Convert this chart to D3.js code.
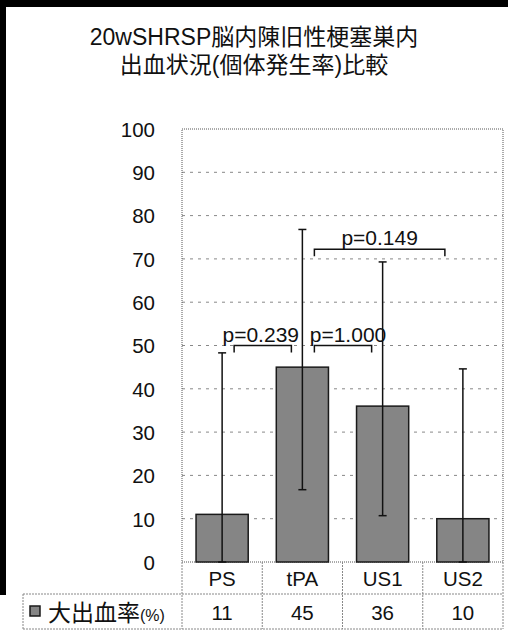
<!DOCTYPE html>
<html><head><meta charset="utf-8">
<script src="https://cdn.jsdelivr.net/npm/d3@7"></script>
<style>body{margin:0;background:#fff}svg{display:block}</style>
</head><body>
<script>
const titleLines = ["20wSHRSP脳内陳旧性梗塞巣内", "出血状況(個体発生率)比較"];
const categories = ["PS", "tPA", "US1", "US2"];
const values = [11, 45, 36, 10];
const errHigh = [48.3, 76.8, 69.3, 44.6];
const errLow = [0, 16.7, 10.7, 0];
const yTicks = [0, 10, 20, 30, 40, 50, 60, 70, 80, 90, 100];
const seriesName = "大出血率";
const seriesUnit = "(%)";
const comparisons = [
  {from: "PS", to: "tPA", label: "p=0.239", y: 50},
  {from: "tPA", to: "US1", label: "p=1.000", y: 50},
  {from: "tPA", to: "US2", label: "p=0.149", y: 72.2}
];

(function () {
const W = 508, H = 643;
const FONT = "'Liberation Sans', Arial, 'Noto Sans CJK JP', sans-serif";
const svg = d3.select("body").append("svg").attr("width", W).attr("height", H)
  .style("font-family", FONT);

// outer black frame
svg.append("rect").attr("x", 0).attr("y", 0).attr("width", W).attr("height", 7).attr("fill", "#000");
svg.append("rect").attr("x", 0).attr("y", 0).attr("width", 6).attr("height", 595).attr("fill", "#000");

const pL = 182, pR = 503, pT = 129, pB = 562;
const x = d3.scaleBand().domain(categories).range([pL, pR]).padding(0);
const y = d3.scaleLinear().domain([0, 100]).range([pB, pT]);
const bw = x.bandwidth() * 0.65;
const cx = c => x(c) + x.bandwidth() / 2;

// title
svg.append("g").selectAll("text").data(titleLines).join("text")
  .attr("x", 254).attr("y", (d, i) => 45 + i * 28)
  .attr("text-anchor", "middle").attr("font-size", 23).attr("fill", "#111")
  .style("font-family", "'Liberation Sans', 'Noto Sans CJK JP', sans-serif")
  .text(d => d);

// gridlines
svg.append("g").selectAll("line").data(yTicks.filter(t => t > 0 && t < 100)).join("line")
  .attr("x1", pL).attr("x2", pR).attr("y1", d => y(d)).attr("y2", d => y(d))
  .attr("stroke", "#888").attr("stroke-width", 1).attr("stroke-dasharray", "3,5");

// plot border (dotted)
svg.append("rect").attr("x", pL).attr("y", pT).attr("width", pR - pL).attr("height", pB - pT)
  .attr("fill", "none").attr("stroke", "#555").attr("stroke-width", 1).attr("stroke-dasharray", "1,1");

// y axis labels
const yAxis = d3.axisLeft(y).tickValues(yTicks).tickSize(0).tickPadding(0);
const ya = svg.append("g").attr("transform", `translate(155,0)`).call(yAxis);
ya.select(".domain").remove();
ya.selectAll("text").attr("font-size", 20.5).attr("fill", "#111").style("font-family", FONT).attr("dy", "0.36em");

// bars
svg.append("g").selectAll("rect").data(categories).join("rect")
  .attr("x", c => cx(c) - bw / 2).attr("width", bw)
  .attr("y", (c, i) => y(values[i])).attr("height", (c, i) => y(0) - y(values[i]))
  .attr("fill", "#858585").attr("stroke", "#1a1a1a").attr("stroke-width", 1.5);

// error bars
const eb = svg.append("g").attr("stroke", "#111").attr("stroke-width", 1.5);
categories.forEach((c, i) => {
  const X = cx(c);
  eb.append("line").attr("x1", X).attr("x2", X).attr("y1", y(errLow[i])).attr("y2", y(errHigh[i]));
  eb.append("line").attr("x1", X - 4).attr("x2", X + 4).attr("y1", y(errHigh[i])).attr("y2", y(errHigh[i]));
  eb.append("line").attr("x1", X - 4).attr("x2", X + 4).attr("y1", y(errLow[i])).attr("y2", y(errLow[i]));
});

// comparison brackets
const br = svg.append("g");
comparisons.forEach(cmp => {
  const x1 = cx(cmp.from) + 12;
  const x2 = cx(cmp.to) - (cmp.to === "US2" ? 18 : 11);
  const yy = y(cmp.y);
  br.append("path").attr("d", `M${x1},${yy + 7}V${yy}H${x2}V${yy + 7}`)
    .attr("fill", "none").attr("stroke", "#111").attr("stroke-width", 1.5);
  br.append("text").attr("x", (x1 + x2) / 2 + (cmp.from === "PS" ? -2 : (cmp.to === "US1" ? 5 : 0)))
    .attr("y", yy - 4).attr("text-anchor", "middle").attr("font-size", 21).attr("fill", "#111")
    .style("font-family", FONT).text(cmp.label);
});

// data table
const rowMid = 594, tableBot = 629, tableLeft = 23;
const tl = svg.append("g").attr("stroke", "#888").attr("stroke-width", 1).attr("stroke-dasharray", "2,1");
categories.concat(["_end"]).forEach((c, i) => {
  const X = i < categories.length ? x(c) : pR;
  tl.append("line").attr("x1", X).attr("x2", X).attr("y1", pB).attr("y2", tableBot);
});
tl.append("line").attr("x1", tableLeft).attr("x2", pR).attr("y1", rowMid).attr("y2", rowMid);
tl.append("line").attr("x1", tableLeft).attr("x2", pR).attr("y1", tableBot).attr("y2", tableBot);
tl.append("line").attr("x1", tableLeft).attr("x2", tableLeft).attr("y1", rowMid).attr("y2", tableBot);

svg.append("g").selectAll("text").data(categories).join("text")
  .attr("x", c => cx(c)).attr("y", 586).attr("text-anchor", "middle")
  .attr("font-size", 20.5).attr("fill", "#111").text(c => c);
svg.append("g").selectAll("text").data(values).join("text")
  .attr("x", (d, i) => cx(categories[i])).attr("y", 620).attr("text-anchor", "middle")
  .attr("font-size", 20.5).attr("fill", "#111").text(d => d);

// legend key
svg.append("rect").attr("x", 30).attr("y", 606).attr("width", 10).attr("height", 10)
  .attr("fill", "#858585").attr("stroke", "#1a1a1a").attr("stroke-width", 1.5);
const lt = svg.append("text").attr("x", 48).attr("y", 621).attr("fill", "#111")
  .style("font-family", "'Noto Sans CJK JP', sans-serif");
lt.append("tspan").attr("font-size", 23).text(seriesName);
lt.append("tspan").attr("font-size", 16).style("font-family", FONT).text(seriesUnit);
})();
</script>
</body></html>
